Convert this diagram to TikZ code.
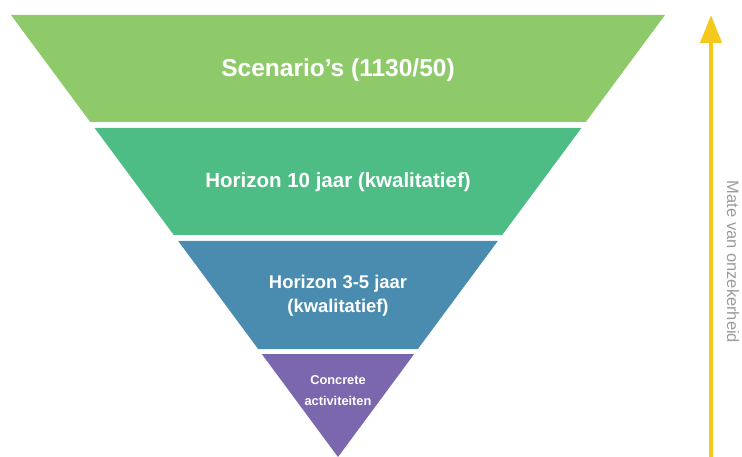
\documentclass[tikz,border=0pt]{standalone}
\usepackage{fontspec}
\setmainfont{Liberation Sans}
\usetikzlibrary{arrows.meta}
\definecolor{lay1}{RGB}{143,202,106}
\definecolor{lay2}{RGB}{78,188,133}
\definecolor{lay3}{RGB}{74,140,175}
\definecolor{lay4}{RGB}{123,103,174}
\definecolor{arrowyellow}{RGB}{245,200,28}
\definecolor{labelgray}{RGB}{155,155,155}
\tikzset{
  layertext/.style={text=white, font=\bfseries, align=center, inner sep=0pt},
  layer/.style={draw=none}
}
\begin{document}
\begin{tikzpicture}[x=1pt,y=-1pt]
\useasboundingbox (0,0) rectangle (742,457);
\fill[lay1] (11,15) -- (665,15) -- (585.8,122) -- (90.2,122) -- cycle;
\fill[lay2] (94.6,128) -- (581.4,128) -- (502.2,235) -- (173.8,235) -- cycle;
\fill[lay3] (178.2,241) -- (497.8,241) -- (417.9,349) -- (258.1,349) -- cycle;
\fill[lay4] (261.8,354) -- (414.2,354) -- (338,457) -- cycle;
\node[layertext, font=\bfseries\fontsize{24.5}{28}\selectfont] (t1) at (338,70) {Scenario’s (1130/50)};
\node[layertext, font=\bfseries\fontsize{20.5}{24}\selectfont] (t2) at (338,182) {Horizon 10 jaar (kwalitatief)};
\node[layertext, font=\bfseries\fontsize{18.4}{24}\selectfont] (t3) at (338,296) {Horizon 3-5 jaar\\(kwalitatief)};
\node[layertext, font=\bfseries\fontsize{12.8}{21}\selectfont] (t4) at (338,391) {Concrete\\activiteiten};
\coordinate (abot) at (711,457);
\coordinate (atop) at (711,15);
\draw[arrowyellow, line width=4.5pt, -{Triangle[length=28pt,width=21pt]}] (abot) -- (atop);
\node[text=labelgray, font=\fontsize{16.5}{20}\selectfont, rotate=-90, inner sep=0pt] (lbl) at (733,262) {Mate van onzekerheid};
\end{tikzpicture}
\end{document}
